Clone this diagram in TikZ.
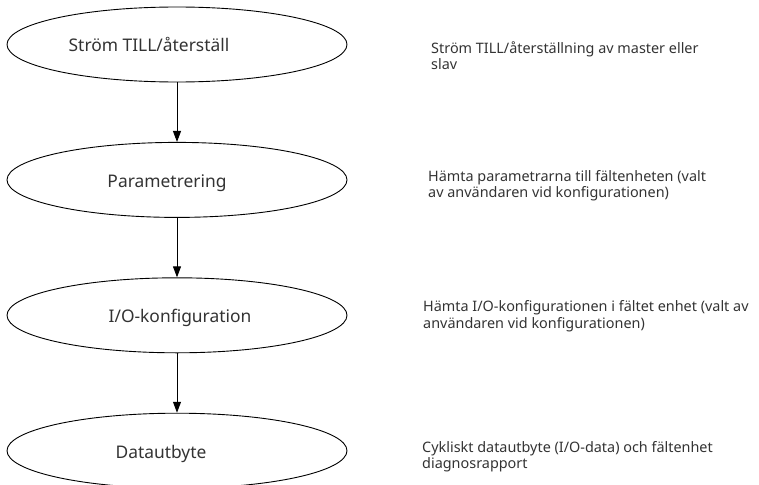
\documentclass[tikz,border=0pt]{standalone}
\usepackage{fontspec}
\setmainfont{Noto Sans}
\usepackage{xcolor}
\colorlet{colorText}{black!80}
\usetikzlibrary{arrows.meta, shapes.geometric, positioning}
\tikzset{every label/.style={font=\fontsize{17.4}{20}\selectfont, text=colorText,
  text height=11pt, text depth=4pt, yshift=-4pt}}

\begin{document}
\begin{tikzpicture}[>={Triangle[length=11pt,width=8pt]}, line width=0.9pt, node distance=59.5pt, x=1pt, y=-1pt,
  stage/.style={ellipse, draw, minimum width=340pt, minimum height=75pt, inner sep=0pt},
  note/.style={anchor=west, align=left, text=colorText, font=\fontsize{14.4}{16.5}\selectfont}]
\useasboundingbox (0,0) rectangle (759,484);
\node[stage, label={[xshift=-28pt]center:Ström TILL/återställ}] (s0) at (177,44.5) {};
\node[stage, below=of s0, label={[xshift=-10pt]center:Parametrering}] (s1) {};
\node[stage, below=of s1, label={[xshift=3pt]center:I/O-konfiguration}] (s2) {};
\node[stage, below=of s2, label={[xshift=-16pt]center:Datautbyte}] (s3) {};
\draw [->] (s0) -- (s1);
\draw [->] (s1) -- (s2);
\draw [->] (s2) -- (s3);
\node[note] (n0) at ([xshift=80pt, yshift=-11pt]s0.east) {Ström TILL/återställning av master eller\\slav};
\node[note] (n1) at ([xshift=77pt, yshift=-6pt]s1.east) {Hämta parametrarna till fältenheten (valt\\av användaren vid konfigurationen)};
\node[note] (n2) at ([xshift=72pt, yshift=-1pt]s2.east) {Hämta I/O-konfigurationen i fältet enhet (valt av\\användaren vid konfigurationen)};
\node[note] (n3) at ([xshift=71pt, yshift=-6pt]s3.east) {Cykliskt datautbyte (I/O-data) och fältenhet\\diagnosrapport};
\end{tikzpicture}
\end{document}
